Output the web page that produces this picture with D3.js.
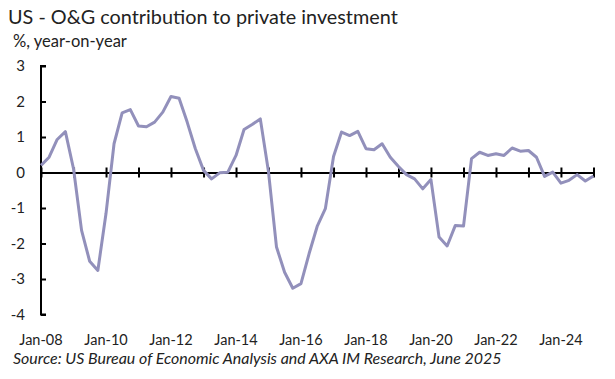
<!DOCTYPE html>
<html><head><meta charset="utf-8">
<script src="https://cdn.jsdelivr.net/npm/d3@7"></script>
<style>body{margin:0;background:#fff}svg{display:block}text{font-family:Lato,"Open Sans",sans-serif;fill:#222}</style>
</head><body><div id="chart"></div>
<script>
// Quarterly data, Q1 2008 .. Q1 2025
const startYear = 2008;
const values = [
 0.20,0.43,0.93,1.15, 0.10,-1.63,-2.50,-2.76, -1.15,0.81,1.68,1.77,
 1.31,1.29,1.42,1.70, 2.14,2.09,1.42,0.67, 0.06,-0.18,-0.01,0.01,
 0.48,1.21,1.35,1.51, 0.02,-2.10,-2.81,-3.26, -3.13,-2.29,-1.52,-1.02,
 0.45,1.14,1.04,1.16, 0.67,0.64,0.81,0.43, 0.17,-0.06,-0.18,-0.46,
 -0.20,-1.82,-2.07,-1.49, -1.51,0.39,0.57,0.48, 0.53,0.48,0.69,0.60,
 0.62,0.43,-0.11,0.01, -0.30,-0.22,-0.06,-0.24, -0.10
];
const yTicks = [-4,-3,-2,-1,0,1,2,3];
const xLabelYears = [2008,2010,2012,2014,2016,2018,2020,2022,2024];
const title = "US - O&G contribution to private investment";
const subtitle = "%, year-on-year";
const source = "Source: US Bureau of Economic Analysis and AXA IM Research, June 2025";

const W = 615, H = 379;
const svg = d3.select("#chart").append("svg").attr("width", W).attr("height", H);

const dates = values.map((v,i) => new Date(startYear + Math.floor(i/4), (i%4)*3, 1));
const x = d3.scaleTime().domain([new Date(2008,0,1), new Date(2025,0,1)]).range([41, 593.5]);
const y = d3.scaleLinear().domain([-4, 3]).range([314.5, 66]);

function fitText(sel, targetW) {
  const n = sel.node();
  const fs = parseFloat(sel.attr("font-size"));
  const w = n.getComputedTextLength();
  sel.attr("font-size", (fs * targetW / w).toFixed(2));
}

fitText(svg.append("text").attr("x", 8).attr("y", 24).attr("font-size", 19).text(title), 390);
fitText(svg.append("text").attr("x", 13).attr("y", 47).attr("font-size", 14).text(subtitle), 114);

// Y axis
const yAxis = svg.append("g").attr("transform", "translate(41,0)")
  .call(d3.axisRight(y).tickValues(yTicks).tickSize(5).tickFormat(""));
yAxis.select(".domain").attr("d", `M5,${y(3)}H0V${y(-4)}H5`).attr("stroke", "#000").attr("stroke-width", 2);
yAxis.selectAll(".tick line").attr("stroke", "#000").attr("stroke-width", 2);

svg.append("g").selectAll("text").data(yTicks).join("text")
  .attr("x", 25).attr("y", d => y(d)).attr("dy", "0.36em")
  .attr("text-anchor", "end").attr("font-size", 15).text(d => d);

// X axis at zero with crossing ticks every year
const years = d3.range(2008, 2026).map(yr => new Date(yr, 0, 1));
const xAxis = svg.append("g").attr("transform", `translate(0,${y(0)})`)
  .call(d3.axisBottom(x).tickValues(years).tickSizeInner(5).tickSizeOuter(0).tickFormat(""));
xAxis.select(".domain").attr("stroke", "#000").attr("stroke-width", 2);
xAxis.selectAll(".tick line").attr("y1", -5).attr("y2", 5).attr("stroke", "#000").attr("stroke-width", 2);

svg.append("g").selectAll("text").data(xLabelYears).join("text")
  .attr("x", d => x(new Date(d,0,1))).attr("y", 345)
  .attr("text-anchor", "middle").attr("font-size", 14.5)
  .text(d => "Jan-" + String(d).slice(2));

// Line
svg.append("path").datum(values)
  .attr("fill", "none").attr("stroke", "#9290bb").attr("stroke-width", 3).attr("stroke-linejoin", "round")
  .attr("d", d3.line().x((d,i) => x(dates[i])).y(d => y(d)));

fitText(svg.append("text").attr("x", 13).attr("y", 363.5).attr("font-size", 14)
  .attr("font-style", "italic").text(source), 489);
</script></body></html>
